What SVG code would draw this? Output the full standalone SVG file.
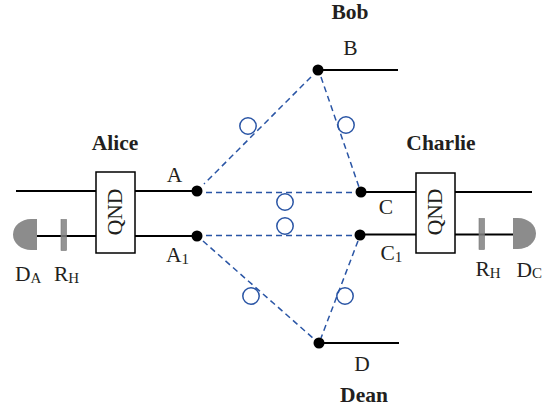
<svg xmlns="http://www.w3.org/2000/svg" width="559" height="410" viewBox="0 0 559 410">
<style>
text{font-family:"Liberation Serif","Times New Roman",serif;fill:#231f20}
.l{font-size:21.500px}
.b{font-size:21.500px;font-weight:bold}
.s{font-size:15px}
.w{fill:none;stroke:#000;stroke-width:2}
.d{fill:none;stroke:#2a55a5;stroke-width:1.500;stroke-dasharray:6 4}
.c{fill:none;stroke:#2a55a5;stroke-width:1.500}
.box{fill:#fff;stroke:#000;stroke-width:1.500}
.n{fill:#000}
.det{fill:#8c8c8c}
.r{fill:#808080;fill-opacity:.85;stroke:#777;stroke-width:.6}
</style>
<rect width="559" height="410" fill="#fff"/>
<g id="connectors">
<path class="w" d="M16 191H96M135 191H197M36 236H96M135 236H197"/>
<path class="w" d="M361 192H416M455 192H532M360 234.500H416M455 234.500H513"/>
<path class="w" d="M318 70H398M319 343H399"/>
<path class="d" d="M311 77L204 184M321 77L359 187M206 192.500H356M206 235.500H355M203 241L314 339M358 241L321 338"/>
</g>
<g id="phase-shifters">
<circle class="c" cx="248" cy="126" r="8.200"/>
<circle class="c" cx="346" cy="125" r="8.200"/>
<circle class="c" cx="285" cy="202" r="8.200"/>
<circle class="c" cx="285" cy="226" r="8.200"/>
<circle class="c" cx="251" cy="296" r="8.200"/>
<circle class="c" cx="345" cy="296" r="8.200"/>
</g>
<g id="alice">
<text class="b" x="115" y="150" text-anchor="middle">Alice</text>
<rect class="box" x="96" y="172" width="39" height="81"/>
<text class="l" transform="translate(122 212) rotate(-90)" text-anchor="middle">QND</text>
</g>
<g id="node-a"><circle class="n" cx="197" cy="191" r="5.500"/><text class="l" x="174.500" y="182" text-anchor="middle">A</text></g>
<g id="node-a1"><circle class="n" cx="197" cy="236" r="5.500"/><text class="l" x="166" y="262">A<tspan class="s" dy="2">1</tspan></text></g>
<g id="detector-a">
<path class="det" d="M37 219V250H31A18 15.500 0 0 1 13 234.500A18 15.500 0 0 1 31 219Z"/>
<text class="l" x="15" y="281">D<tspan class="s" dy="1.500">A</tspan></text>
</g>
<g id="rh-a">
<rect class="r" x="61" y="219.500" width="5.500" height="31"/>
<text class="l" x="54" y="281">R<tspan class="s" dy="1.500">H</tspan></text>
</g>
<g id="bob">
<text class="b" x="350" y="19" text-anchor="middle">Bob</text>
<circle class="n" cx="318" cy="70" r="5.500"/>
<text class="l" x="350.500" y="55" text-anchor="middle">B</text>
</g>
<g id="charlie">
<text class="b" x="441" y="150" text-anchor="middle">Charlie</text>
<rect class="box" x="416" y="173" width="39" height="80"/>
<text class="l" transform="translate(442 212) rotate(-90)" text-anchor="middle">QND</text>
</g>
<g id="node-c"><circle class="n" cx="361" cy="192" r="5.500"/><text class="l" x="386" y="214" text-anchor="middle">C</text></g>
<g id="node-c1"><circle class="n" cx="360" cy="235" r="5.500"/><text class="l" x="380.500" y="260">C<tspan class="s" dy="2">1</tspan></text></g>
<g id="rh-c">
<rect class="r" x="479" y="218.500" width="5.500" height="31"/>
<text class="l" x="475.500" y="276">R<tspan class="s" dy="1.500">H</tspan></text>
</g>
<g id="detector-c">
<path class="det" d="M513 218V249H518A18 15.500 0 0 0 536 233.500A18 15.500 0 0 0 518 218Z"/>
<text class="l" x="516.500" y="276.500">D<tspan class="s" dy="1.500">C</tspan></text>
</g>
<g id="dean">
<circle class="n" cx="319" cy="343" r="5.500"/>
<text class="l" x="362" y="371" text-anchor="middle">D</text>
<text class="b" x="364" y="402" text-anchor="middle">Dean</text>
</g>
</svg>
